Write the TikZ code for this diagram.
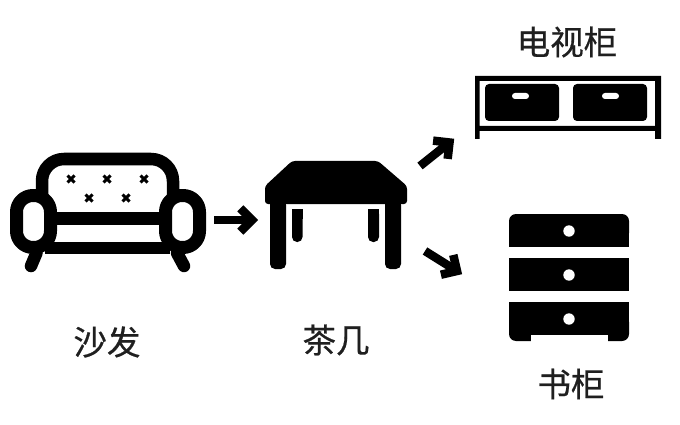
\documentclass[tikz,border=0pt]{standalone}
\usepackage{fontspec}
\newfontfamily\cjk[FakeBold=0.6]{Noto Sans CJK SC}
\usetikzlibrary{calc}
\tikzset{
	namelabel/.style={font=\cjk\fontsize{33.5}{33.5}\selectfont, text=black!88, inner sep=0pt},
	sofaline/.style={line width=12.5pt, line cap=round, line join=round},
	bigarrow/.style={line width=8.5pt, line join=miter, line cap=butt}
}
\begin{document}
\begin{tikzpicture}[x=1pt, y=-1pt, line join=round]
	\useasboundingbox (0,0) rectangle (680,425);
	\path (214,220) coordinate (sofaEnd) (252,220) coordinate (tableIn)
	(420,166) coordinate (tableUp) (449.5,142.5) coordinate (standIn)
	(425,251) coordinate (tableDown) (457,271) coordinate (chestIn);
	% sofa
	\draw[sofaline] (42,197) -- (42,181) arc[start angle=180, end angle=270, radius=22] -- (151,159) arc[start angle=270, end angle=360, radius=22] -- (173,197);
	\draw[sofaline, line cap=butt] (50,218.5) -- (168,218.5) (45,248) -- (170,248);
	\foreach \x/\y/\z in {36.5/31/253, 177/184/253} {
			\draw[sofaline] (\x,\z) -- (\y,266);
		}
	\foreach \x in {16.5,165.5} {
			\draw[line width=13pt, fill=white, rounded corners=16.5pt] (\x,195.5) rectangle (\x+34,247.5);
		}
	\foreach \x/\y in {71/179,107/179,144/179,89/198,126/198} {
			\draw[line width=3pt] (\x-3.5,\y-3.5) -- (\x+3.5,\y+3.5) (\x-3.5,\y+3.5) -- (\x+3.5,\y-3.5);
		}
	% table
	\fill[rounded corners=3pt] (292,161) -- (378,161) -- (407,186) -- (407,204) -- (265,204) -- (265,186) -- cycle;
	\foreach \x/\w/\y/\z in {270/16/200/269, 385/16/200/269, 292/10.5/209/242, 368/11/209/242} {
			\fill[rounded corners=5pt] (\x,\y) rectangle (\x+\w,\z);
			\fill (\x,\y) rectangle (\x+\w,\y+10);
		}
	% tv stand
	\fill[even odd rule] (475,76) -- (661,76) -- (661,139) -- (655,139) -- (655,131) -- (479.5,131) -- (479.5,139) -- (475,139) -- cycle (479.5,81) rectangle (655,126);
	\foreach \x/\h in {485/512,573/602} {
			\fill[rounded corners=4pt] (\x,84) rectangle (\x+74,121);
			\fill[white, rounded corners=3pt] (\h,93) rectangle (\h+17,99);
		}
	% chest
	\fill[rounded corners=7pt] (509,214) rectangle (629,240);
	\fill (509,226) rectangle (629,247);
	\fill (509,258) rectangle (629,291);
	\fill (509,302) rectangle (629,325);
	\fill[rounded corners=7pt] (509,315) rectangle (629,341);
	\fill[white] (531,335) rectangle (608,342);
	\foreach \y in {231,275,319} {
			\fill[white] (569,\y) circle (5.7pt);
		}
	% arrows
	\foreach \a/\b in {sofaEnd/tableIn,tableUp/standIn,tableDown/chestIn} {
			\draw[bigarrow] (\a) -- (\b);
			\draw[bigarrow] ($(\b)!16.5pt!45:(\a)$) -- (\b) -- ($(\b)!16.5pt!-45:(\a)$);
		}
	% names
	\node[namelabel] (standName) at (567,42) {电视柜};
	\node[namelabel] (sofaName) at (107,342) {沙发};
	\node[namelabel] (tableName) at (336,340) {茶几};
	\node[namelabel] (chestName) at (571,384) {书柜};
\end{tikzpicture}
\end{document}
